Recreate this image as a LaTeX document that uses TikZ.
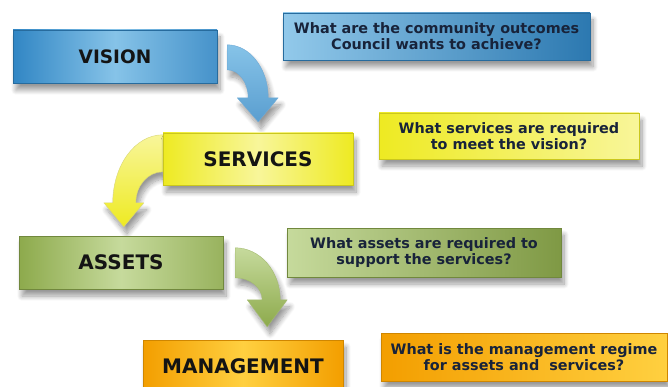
\documentclass[tikz,border=0pt]{standalone}
\usepackage{fontspec}
\setmainfont{DejaVu Sans}
\usepackage{tikz}
\usetikzlibrary{calc,shadows.blur}

\definecolor{blueDark}{HTML}{3186C4}
\definecolor{blueLight}{HTML}{86C3E8}
\definecolor{yellowDark}{HTML}{EEEA22}
\definecolor{yellowLight}{HTML}{F8F69A}
\definecolor{greenDark}{HTML}{8DAA4C}
\definecolor{greenLight}{HTML}{C6DA9C}
\definecolor{orangeDark}{HTML}{F39E00}
\definecolor{orangeLight}{HTML}{FFD040}
\definecolor{askText}{HTML}{18233A}

\pgfdeclarelayer{background}
\pgfsetlayers{background,main}

\begin{document}
\begin{tikzpicture}[x=1pt,y=-1pt,
    softshadow/.style={blur shadow={shadow xshift=3pt,shadow yshift=-7pt,
        shadow opacity=40,shadow blur steps=10,shadow blur radius=5pt}},
    stage/.style={rectangle,inner sep=0pt,softshadow,text=black!92,
        font=\bfseries\fontsize{20}{24}\selectfont},
    question/.style={rectangle,inner sep=0pt,softshadow,align=center,text=askText,
        font=\bfseries\fontsize{14.4}{16}\selectfont},
    bendarrow/.style={softshadow,line width=0.4pt,line join=round}]

\useasboundingbox (0,0) rectangle (668,387);

% left column: the four stages
\node[stage,minimum width=204pt,minimum height=53pt,draw=blueDark!80!black,
    left color=blueDark,right color=blueDark!90,middle color=blueLight,
    font=\bfseries\fontsize{18.5}{22}\selectfont] (vision) at (115,56.5) {VISION};
\node[stage,minimum width=190pt,minimum height=52pt,draw=yellowDark!85!black,
    left color=yellowDark,right color=yellowDark,middle color=yellowLight]
    (services) at (258,159) {SERVICES};
\node[stage,minimum width=204pt,minimum height=53pt,draw=greenDark!80!black,
    left color=greenDark,right color=greenDark!90,middle color=greenLight]
    (assets) at (121,262.5) {ASSETS};
\node[stage,minimum width=200pt,minimum height=53pt,draw=orangeDark!85!black,
    left color=orangeDark,right color=orangeDark,middle color=orangeLight]
    (management) at (243,366.5) {MANAGEMENT};

% right column: the questions
\node[question,minimum width=307pt,minimum height=47pt,draw=blueDark!80!black,
    left color=blueLight!90,right color=blueDark!90!black] (askvision) at (436.5,36.5)
    {What are the community outcomes\\Council wants to achieve?};
\node[question,minimum width=260pt,minimum height=46pt,draw=yellowDark!85!black,
    left color=yellowDark,right color=yellowLight] (askservices) at (509,136)
    {What services are required\\to meet the vision?};
\node[question,minimum width=274pt,minimum height=49pt,draw=greenDark!80!black,
    left color=greenLight,right color=greenDark!90!black] (askassets) at (424,252.5)
    {What assets are required to\\support the services?};
\node[question,minimum width=286pt,minimum height=48pt,draw=orangeDark!85!black,
    left color=orangeDark,right color=orangeLight] (askmanagement) at (524,357)
    {What is the management regime\\for assets and\ \ services?};

% bent arrows between the stages
\begin{pgfonlayer}{background}
\path[bendarrow,draw=blueDark!70,top color=blueLight,bottom color=blueDark!80]
    ($(vision.north east)+(10,15)$) arc (-90:0:41 and 53) -- ++(10,0) -- ++(-20,24)
    -- ++(-21,-24) -- ++(11,0) arc (0:-90:21 and 28) -- cycle;
\path[bendarrow,draw=yellowDark!80!black!60,top color=yellowLight,bottom color=yellowDark]
    ($(services.north west)+(0,2)$) arc (-90:-180:50 and 68) -- ++(-9,0) -- ++(20,24)
    -- ++(20,-24) -- ++(-8,0) arc (-180:-90:27 and 31) -- cycle;
\path[bendarrow,draw=greenDark!80,top color=greenLight,bottom color=greenDark]
    ($(assets.north east)+(12,12)$) arc (-90:0:45 and 52) -- ++(7,0) -- ++(-20,27)
    -- ++(-20,-27) -- ++(15,0) arc (0:-90:27 and 22) -- cycle;
\end{pgfonlayer}
\end{tikzpicture}
\end{document}
